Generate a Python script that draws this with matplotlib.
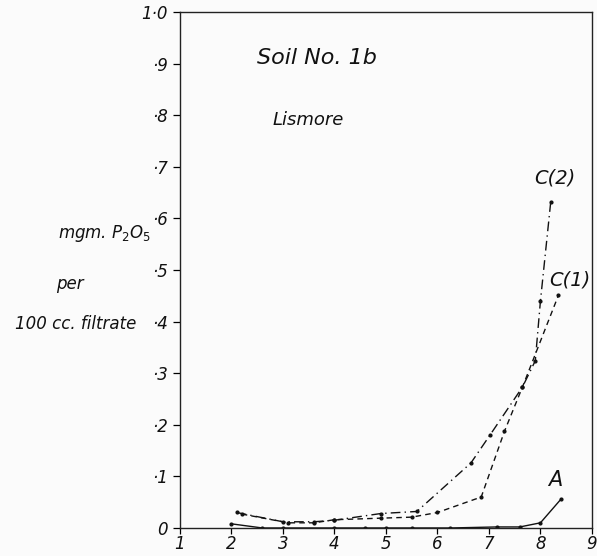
import matplotlib
matplotlib.use('Agg')
import matplotlib.pyplot as plt

# data
x_ticks = [1, 2, 3, 4, 5, 6, 7, 8, 9]
y_ticks = [0, 0.1, 0.2, 0.3, 0.4, 0.5, 0.6, 0.7, 0.8, 0.9, 1.0]
y_tick_labels = ['0', '·1', '·2', '·3', '·4', '·5', '·6', '·7', '·8', '·9', '1·0']

a_x = [2.0, 2.6, 3.0, 4.0, 4.6, 5.0, 5.5, 6.25, 7.15, 7.6, 8.0, 8.4]
a_y = [0.008, 0.0, 0.0, 0.0, 0.0, 0.0, 0.0, 0.0, 0.002, 0.002, 0.01, 0.056]

c1_x = [2.2, 3.1, 3.6, 4.0, 4.9, 5.5, 6.0, 6.85, 7.3, 7.65, 8.35]
c1_y = [0.027, 0.010, 0.010, 0.016, 0.019, 0.021, 0.030, 0.060, 0.187, 0.273, 0.451]

c2_x = [2.1, 3.0, 3.6, 4.0, 4.9, 5.6, 6.65, 7.02, 7.65, 7.9, 8.0, 8.2]
c2_y = [0.030, 0.012, 0.012, 0.015, 0.028, 0.032, 0.126, 0.18, 0.273, 0.324, 0.44, 0.632]

hand = dict(family='DejaVu Sans', style='italic', color='#111111')

fig = plt.figure(figsize=(5.97, 5.56), dpi=100)
fig.patch.set_facecolor('#fbfbfb')
ax = fig.add_axes([0.3015, 0.0504, 0.690, 0.928])
ax.set_facecolor('#fbfbfb')

ax.plot(a_x, a_y, '-', color='#111111', lw=1.0, marker='o', ms=2)
ax.plot(c1_x, c1_y, color='#111111', lw=1.0, ls=(0, (4, 3)), marker='o', ms=2)
ax.plot(c2_x, c2_y, color='#111111', lw=1.0, ls=(0, (7, 3, 1, 3)), marker='o', ms=2)

ax.set_xlim(1, 9)
ax.set_ylim(0, 1)
ax.set_xticks(x_ticks)
ax.set_xticklabels([str(v) for v in x_ticks], fontsize=12, **hand)
ax.set_yticks(y_ticks)
ax.set_yticklabels(y_tick_labels, fontsize=12, **hand)
ax.tick_params(axis='x', direction='out', length=4, width=0.9, pad=1)
ax.tick_params(axis='y', direction='out', length=5, width=0.9, pad=4)
for s in ax.spines.values():
    s.set_linewidth(1.0)
    s.set_color('#222222')

# labels written on the chart
ax.text(2.5, 0.91, 'Soil No. 1b', fontsize=16, va='center', **hand)
ax.text(2.8, 0.79, 'Lismore', fontsize=13, va='center', **hand)
ax.text(8.28, 0.678, 'C(2)', fontsize=14, ha='center', va='center', **hand)
ax.text(8.57, 0.48, 'C(1)', fontsize=14, ha='center', va='center', **hand)
ax.text(8.28, 0.093, 'A', fontsize=15, ha='center', va='center', **hand)

fig.text(105 / 597, 1 - 234 / 556, 'mgm. P$_2$O$_5$', fontsize=12, ha='center', va='center', **hand)
fig.text(70 / 597, 1 - 284 / 556, 'per', fontsize=12, ha='center', va='center', **hand)
fig.text(76 / 597, 1 - 324 / 556, '100 cc. filtrate', fontsize=12, ha='center', va='center', **hand)

fig.savefig('out.png', dpi=100, facecolor=fig.get_facecolor())
